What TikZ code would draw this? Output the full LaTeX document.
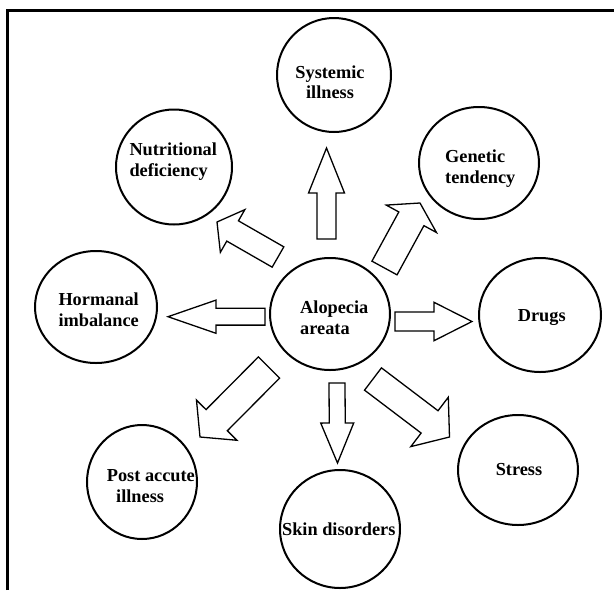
\documentclass[tikz,border=0pt]{standalone}
\usepackage{fontspec}
\setmainfont{Liberation Serif}
\usetikzlibrary{shapes.geometric,calc}
\tikzset{
  bubble/.style={draw, line width=2pt, ellipse, inner sep=0pt},
  lbl/.style={inner sep=0pt, font=\bfseries\fontsize{18.3}{20.6}\selectfont},
  arrowbox/.style={draw, fill=white, line width=1.3pt, line join=miter},
  frameline/.style={line width=3pt}
}
\newcommand\barrow[5]{%
  \coordinate (hb) at ($(#2)!#5!(#1)$);
  \draw[arrowbox] ($(#1)!#3!90:(#2)$) -- ($(hb)!#3!-90:(#1)$) -- ($(hb)!#4!-90:(#1)$)
    -- (#2) -- ($(hb)!#4!90:(#1)$) -- ($(hb)!#3!90:(#1)$) -- ($(#1)!#3!-90:(#2)$) -- cycle;
}
\begin{document}
\begin{tikzpicture}[x=1pt,y=-1pt]
\useasboundingbox (0,0) rectangle (614,590);
\fill[white] (0,0) rectangle (614,590);
% frame
\coordinate (fb) at (7.5,590);
\coordinate (ftl) at (7.5,10);
\coordinate (ftr) at (614,10);
\draw[frameline] (fb) -- (ftl) -- (ftr);
% circles
\node[bubble, minimum width=114pt, minimum height=114pt] (sys) at (334,75) {};
\node[bubble, minimum width=116pt, minimum height=115pt] (nut) at (174,167) {};
\node[bubble, minimum width=120pt, minimum height=112pt] (gen) at (479,163) {};
\node[bubble, minimum width=122pt, minimum height=112pt] (hor) at (96,307) {};
\node[bubble, minimum width=120pt, minimum height=112pt] (alo) at (330,314) {};
\node[bubble, minimum width=122pt, minimum height=114pt] (dru) at (540,315) {};
\node[bubble, minimum width=110pt, minimum height=114pt] (pos) at (142,482) {};
\node[bubble, minimum width=120pt, minimum height=118pt] (ski) at (340,529) {};
\node[bubble, minimum width=120pt, minimum height=110pt] (str) at (518,470) {};
% labels
\node[lbl, align=center, anchor=north] (tsys) at (330,65.3) {Systemic\\illness};
\node[lbl, align=left, anchor=north west] (tnut) at (129.3,143) {Nutritional\\deficiency};
\node[lbl, align=left, anchor=north west] (tgen) at (445,149.7) {Genetic\\tendency};
\node[lbl, align=left, anchor=north west] (thor) at (58.3,292.7) {Hormanal\\imbalance};
\node[lbl, align=left, anchor=north west] (talo) at (300,300.7) {Alopecia\\areata};
\node[lbl, anchor=base] (tdru) at (541.8,321.7) {Drugs};
\node[lbl, align=left, anchor=north west] (tpos) at (106.7,469.7) {Post accute\\\hspace*{9.3pt}illness};
\node[lbl, anchor=base] (tski) at (338.8,535) {Skin disorders};
\node[lbl, anchor=base] (tstr) at (519,475) {Stress};
% arrows
\coordinate (a1t) at (326.5,239);   \coordinate (a1h) at (326.5,148);
\coordinate (a2t) at (278,257);     \coordinate (a2h) at (217,222);
\coordinate (a3t) at (384.5,268);   \coordinate (a3h) at (420,203);
\coordinate (a4t) at (265,316.7);   \coordinate (a4h) at (168,316.7);
\coordinate (a5t) at (395,321.5);   \coordinate (a5h) at (472,321.5);
\coordinate (a6t) at (337,383);     \coordinate (a6h) at (337.5,463);
\coordinate (a7t) at (269,367.5);   \coordinate (a7h) at (200,437);
\coordinate (a8t) at (373,379);     \coordinate (a8h) at (449.5,437);
\barrow{a1t}{a1h}{9.5pt}{18pt}{45pt}
\barrow{a2t}{a2h}{11.7pt}{24.6pt}{18pt}
\barrow{a3t}{a3h}{14.3pt}{28.6pt}{18pt}
\barrow{a4t}{a4h}{8.4pt}{16.6pt}{48pt}
\barrow{a5t}{a5h}{9.5pt}{19.2pt}{38pt}
\barrow{a6t}{a6h}{8pt}{16.5pt}{40pt}
\barrow{a7t}{a7h}{15pt}{28.5pt}{23.7pt}
\barrow{a8t}{a8h}{14pt}{31pt}{25pt}
\end{tikzpicture}
\end{document}
